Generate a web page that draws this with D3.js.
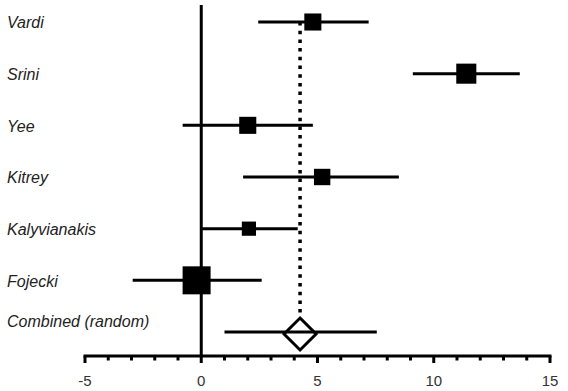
<!DOCTYPE html>
<html>
<head>
<meta charset="utf-8">
<script src="https://cdn.jsdelivr.net/npm/d3@7"></script>
<style>
  body { margin: 0; background: #fff; }
  text { font-family: "Liberation Sans", Arial, sans-serif; }
</style>
</head>
<body>
<div id="chart"></div>
<script>
// study names, effect estimates and confidence limits
const studies = ['Vardi', 'Srini', 'Yee', 'Kitrey', 'Kalyvianakis', 'Fojecki', 'Combined (random)'];
const estimates = [4.8, 11.4, 2.0, 5.2, 2.05, -0.2, 4.25];
const lower = [2.45, 9.1, -0.8, 1.8, 0.0, -2.95, 1.0];
const upper = [7.2, 13.7, 4.8, 8.5, 4.15, 2.6, 7.55];
// study weights (%), the pooled row has none
const weights = [13, 18, 13, 12, 9, 35, null];
const xTicks = [-5, 0, 5, 10, 15];

const width = 568, height = 391;

const svg = d3.select('#chart').append('svg')
    .attr('width', width)
    .attr('height', height);

const x = d3.scaleLinear().domain([-5, 15]).range([85, 550]);
const y = d3.scalePoint().domain(studies).range([22, 332]);
const side = d3.scaleSqrt().domain([0, 35]).range([0, 28]);

const rows = studies.map(function (s, i) {
    return {name: s, est: estimates[i], lo: lower[i], hi: upper[i], w: weights[i]};
});
const pooled = rows[rows.length - 1];

// zero line
svg.append('line')
    .attr('x1', x(0)).attr('x2', x(0))
    .attr('y1', 5).attr('y2', 357)
    .attr('stroke', '#000').attr('stroke-width', 3);

// dotted line at the pooled estimate
svg.append('line')
    .attr('x1', x(pooled.est)).attr('x2', x(pooled.est))
    .attr('y1', y(studies[0])).attr('y2', y(pooled.name) - 16)
    .attr('stroke', '#000').attr('stroke-width', 3.5)
    .attr('stroke-dasharray', '3.5,5.2');

// x axis with minor ticks
const axis = svg.append('g').attr('transform', 'translate(0,356)');
axis.append('line')
    .attr('x1', x(-5) - 1.5).attr('x2', x(15) + 1.5)
    .attr('stroke', '#000').attr('stroke-width', 3);
axis.selectAll('.minor')
    .data(d3.range(-5, 16))
    .enter().append('line')
    .attr('class', 'minor')
    .attr('x1', function (d) { return x(d); })
    .attr('x2', function (d) { return x(d); })
    .attr('y1', 0)
    .attr('y2', function (d) { return xTicks.includes(d) ? 7 : 4.5; })
    .attr('stroke', '#000').attr('stroke-width', 3);
axis.selectAll('.tlabel')
    .data(xTicks)
    .enter().append('text')
    .attr('class', 'tlabel')
    .attr('x', function (d) { return x(d); })
    .attr('y', 26)
    .attr('text-anchor', 'middle')
    .attr('dominant-baseline', 'middle')
    .style('font-size', '15px')
    .style('fill', '#333')
    .text(function (d) { return d; });

// confidence intervals
svg.selectAll('.ci')
    .data(rows)
    .enter().append('line')
    .attr('class', 'ci')
    .attr('x1', function (d) { return x(d.lo); })
    .attr('x2', function (d) { return x(d.hi); })
    .attr('y1', function (d) { return y(d.name); })
    .attr('y2', function (d) { return y(d.name); })
    .attr('stroke', '#000').attr('stroke-width', 3);

// weighted squares
svg.selectAll('.box')
    .data(rows.filter(function (d) { return d.w !== null; }))
    .enter().append('rect')
    .attr('class', 'box')
    .attr('x', function (d) { return x(d.est) - side(d.w) / 2; })
    .attr('y', function (d) { return y(d.name) - side(d.w) / 2; })
    .attr('width', function (d) { return side(d.w); })
    .attr('height', function (d) { return side(d.w); })
    .attr('fill', '#000');

// pooled diamond
const cx = x(pooled.est), cy = y(pooled.name) + 2;
svg.append('path')
    .attr('d', `M${cx},${cy - 16} L${cx + 16},${cy} L${cx},${cy + 16} L${cx - 16},${cy} Z`)
    .attr('fill', 'none')
    .attr('stroke', '#000').attr('stroke-width', 3);

// study labels
svg.selectAll('.label')
    .data(rows)
    .enter().append('text')
    .attr('class', 'label')
    .attr('x', 7)
    .attr('y', function (d, i) { return y(d.name) + (i === rows.length - 1 ? -9 : 2); })
    .attr('dominant-baseline', 'middle')
    .style('font-size', '16px')
    .style('font-style', 'italic')
    .style('fill', '#222')
    .text(function (d) { return d.name; });
</script>
</body>
</html>
